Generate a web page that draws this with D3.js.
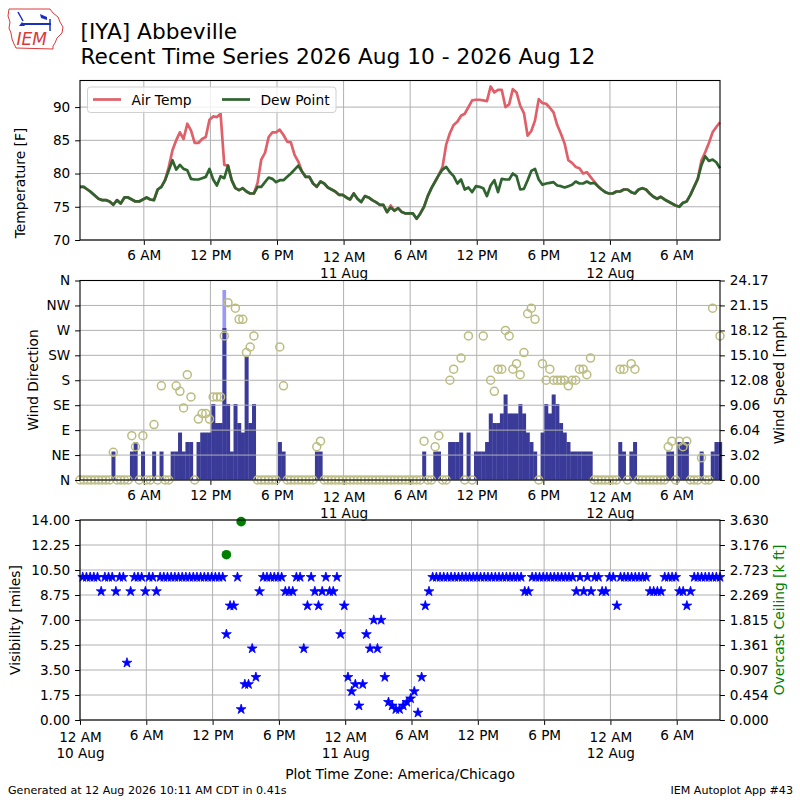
<!DOCTYPE html>
<html>
<head>
<meta charset="utf-8">
<script src="https://cdn.jsdelivr.net/npm/d3@7"></script>
<style>
body { margin: 0; background: #fff; }
svg text { font-family: "DejaVu Sans", sans-serif; }
</style>
</head>
<body>
<div id="chart"></div>
<script>
// observations every 20 minutes from 2026-08-10 00:15 (America/Chicago wall clock, handled as UTC)
const obsStart = Date.UTC(2026, 7, 10, 0, 15)
const obsStep = 20 * 60 * 1000

const airTemp = [
  78.0,78.0,77.6,77.2,76.7,76.2,76.0,76.0,75.8,75.3,76.0,75.5,76.4,76.4,76.1,75.8,75.8,76.1,76.4,76.1,
  76.0,77.6,78.0,79.0,81.0,83.5,85.0,86.2,85.2,87.5,86.5,84.6,84.6,85.2,85.5,88.1,88.6,88.5,89.0,81.3,
  81.2,79.0,77.8,77.5,77.8,77.3,77.0,77.0,78.6,82.1,83.1,85.5,86.2,86.2,86.6,85.8,84.8,84.7,82.8,81.8,
  80.3,79.5,79.5,78.5,78.0,78.8,78.5,77.9,77.6,77.3,76.8,76.8,76.4,76.1,77.0,76.2,75.7,76.6,76.4,76.0,
  75.7,75.3,75.3,74.2,75.2,74.4,74.8,74.2,74.0,74.0,74.0,73.2,74.0,75.0,76.6,77.8,78.8,79.8,81.0,84.4,
  86.1,87.3,87.8,88.7,89.0,90.0,91.0,91.1,91.1,91.0,90.9,93.1,92.2,92.6,92.6,90.0,90.4,92.7,92.2,90.2,
  89.1,85.7,86.4,88.0,91.2,90.6,90.5,89.9,89.2,87.3,86.0,84.5,82.0,81.6,81.0,80.8,80.0,80.2,79.5,78.8,
  78.1,77.6,77.2,77.0,77.0,77.3,77.3,77.6,77.6,77.2,77.0,77.6,77.8,77.6,77.0,76.5,76.2,76.5,76.1,75.8,
  75.5,75.2,75.0,75.6,75.8,76.8,78.0,79.2,82.0,83.2,84.6,86.2,87.0,87.7
]
const dewPoint = [
  78.0,78.0,77.6,77.2,76.7,76.2,76.0,76.0,75.8,75.3,76.0,75.5,76.4,76.4,76.1,75.8,75.8,76.1,76.4,76.1,
  76.0,77.6,78.0,79.0,80.5,82.0,80.6,81.3,80.7,80.5,79.2,79.1,79.1,79.3,79.5,80.7,79.1,78.2,79.6,79.3,
  81.2,79.0,77.8,77.5,77.8,77.3,77.0,77.0,78.0,78.0,78.7,79.4,79.2,78.7,79.0,79.0,79.5,80.0,80.6,81.2,
  80.3,79.5,79.5,78.5,78.0,78.8,78.5,77.9,77.6,77.3,76.8,76.8,76.4,76.1,77.0,76.2,75.7,76.6,76.4,76.0,
  75.7,75.3,75.3,74.2,74.9,74.4,74.8,74.2,74.0,74.0,74.0,73.2,74.0,75.0,76.6,77.8,78.8,79.8,80.6,81.0,
  80.2,79.6,78.5,79.1,77.6,77.9,77.2,78.1,78.0,77.8,76.6,78.2,79.0,77.2,79.2,79.1,79.1,80.0,79.6,77.6,
  77.7,79.0,80.4,80.7,79.1,78.3,78.5,78.6,78.7,78.2,78.1,77.9,78.1,78.3,78.8,78.5,78.5,78.8,78.5,78.6,
  78.1,77.6,77.2,77.0,77.0,77.3,77.3,77.6,77.6,77.2,77.0,77.6,77.8,77.6,77.0,76.5,76.2,76.5,76.1,75.8,
  75.5,75.2,75.0,75.6,75.8,76.8,78.0,79.2,81.3,82.6,81.9,82.1,81.7,80.8
]
// mph
const windSpeed = [
  0,0,0,0,0,0,0,0,0,3.45,0,0,0,0,3.45,4.6,0,3.45,0,0,
  3.45,0,3.45,0,0,3.45,3.45,5.75,3.45,4.6,4.6,0,4.6,5.75,5.75,5.75,9.21,6.9,6.9,18.41,
  9.21,3.45,9.21,6.9,5.75,14.96,6.9,9.21,0,0,0,0,0,0,4.6,3.45,0,0,0,0,
  0,0,0,0,3.45,3.45,0,0,0,0,0,0,0,0,0,0,0,0,0,0,
  0,0,0,0,0,0,0,0,0,0,0,0,0,3.45,0,0,3.45,3.45,0,0,
  4.6,4.6,4.6,5.75,0,5.75,0,3.45,3.45,3.45,4.6,8.06,6.9,6.9,8.06,10.36,8.06,8.06,8.06,9.21,
  8.06,5.75,4.6,3.45,0,5.75,9.21,8.06,10.36,9.21,6.9,5.75,4.6,3.45,3.45,3.45,3.45,3.45,3.45,0,
  0,0,0,0,0,0,4.6,3.45,0,3.45,4.6,0,0,0,0,0,0,0,0,3.45,
  3.45,0,4.6,4.6,4.6,0,0,0,3.45,0,0,3.45,4.6,4.6
]
// degrees, 0 = calm, null = missing
const windDir = [
  0,0,0,0,0,0,0,0,0,50,0,0,0,0,80,60,0,80,0,0,
  100,0,170,0,0,null,170,160,130,190,150,0,110,120,120,110,150,150,150,260,
  320,null,310,290,290,230,240,260,0,0,0,0,0,0,240,170,0,0,0,0,
  0,0,0,0,60,70,0,0,0,0,0,0,0,0,0,0,0,0,0,0,
  0,0,0,0,0,0,0,0,0,0,0,0,0,70,0,0,60,80,0,0,
  180,200,null,220,0,260,0,null,null,260,null,180,160,200,200,270,260,200,210,190,
  230,300,310,290,0,210,180,200,180,180,180,180,170,180,180,200,200,190,220,0,
  0,0,0,0,0,0,200,200,0,210,200,0,0,0,0,0,0,0,0,60,
  70,0,70,60,70,0,0,0,40,0,0,310,null,260
]
// miles
const visibility = [
  10,10,10,10,10,9,10,10,10,9,10,10,4,9,10,10,10,9,10,10,
  9,10,10,10,10,10,10,10,10,10,10,10,10,10,10,10,10,10,10,6,
  8,8,10,0.75,2.5,2.5,5,3,9,10,10,10,10,10,10,9,9,9,10,10,
  5,8,10,9,8,9,10,9,9,10,6,8,3,2,2.5,1,2.5,6,5,7,
  5,7,3,1.25,1,0.75,0.75,1,1.25,1.5,2,0.5,3,8,9,10,10,10,10,10,
  10,10,10,10,10,10,10,10,10,10,10,10,10,10,10,10,10,10,10,10,
  9,9,10,10,10,10,10,10,10,10,10,10,10,10,9,10,9,10,9,10,
  10,9,9,10,10,8,10,10,10,10,10,10,10,10,9,9,9,9,10,10,
  10,10,9,9,8,9,10,10,10,10,10,10,10,10
]
const gustTimes = ['2026-08-10T13:15']
const gustValues = [23.02]
const ceilTimes = ['2026-08-10T13:15', '2026-08-10T14:35']
const ceilValues = [3.0, 3.6]

const tempTicks = [70, 75, 80, 85, 90]
const dirTicks = [0, 45, 90, 135, 180, 225, 270, 315, 360]
const dirLabels = ['N', 'NE', 'E', 'SE', 'S', 'SW', 'W', 'NW', 'N']
const speedTicks = [0, 3.02, 6.04, 9.06, 12.08, 15.10, 18.12, 21.15, 24.17]
const visTicks = [0, 1.75, 3.5, 5.25, 7, 8.75, 10.5, 12.25, 14]
const ceilTicks = [0, 0.454, 0.907, 1.361, 1.815, 2.269, 2.723, 3.176, 3.630]
const xTicks = ['2026-08-10T00:00','2026-08-10T06:00','2026-08-10T12:00','2026-08-10T18:00',
  '2026-08-11T00:00','2026-08-11T06:00','2026-08-11T12:00','2026-08-11T18:00',
  '2026-08-12T00:00','2026-08-12T06:00']

const parseT = d3.utcParse('%Y-%m-%dT%H:%M')
const times = airTemp.map((d, i) => new Date(obsStart + i * obsStep))

const svg = d3.select('#chart').append('svg')
  .attr('width', 800).attr('height', 800).style('display', 'block')

const left = 80, right = 720
const xTop = d3.scaleUtc().domain([times[0], times[times.length - 1]]).range([left, right])
const xBot = d3.scaleUtc().domain([parseT('2026-08-10T00:00'), times[times.length - 1]]).range([left, right])

const gridColor = '#b0b0b0'
const tickFont = 13.6

function hourLabel(t) {
  const h = t.getUTCHours()
  if (h === 0) return ['12 AM', t.getUTCDate() + ' Aug']
  if (h === 12) return ['12 PM']
  return [(h % 12) + (h < 12 ? ' AM' : ' PM')]
}

function drawPanel(x, top, bottom) {
  const g = svg.append('g')
  const tv = xTicks.map(parseT).filter(t => t >= x.domain()[0] && t <= x.domain()[1])
  g.append('g').selectAll('line').data(tv).join('line')
    .attr('x1', d => x(d)).attr('x2', d => x(d))
    .attr('y1', top).attr('y2', bottom)
    .attr('stroke', gridColor).attr('stroke-width', 1)
  const ax = g.append('g').attr('transform', `translate(0,${bottom})`)
    .call(d3.axisBottom(x).tickValues(tv).tickSize(4.9).tickPadding(4.9).tickFormat(''))
  ax.select('.domain').remove()
  ax.selectAll('.tick line').attr('stroke', '#000')
  ax.selectAll('.tick text').each(function (d) {
    const lines = hourLabel(d)
    const t = d3.select(this).attr('font-size', tickFont).attr('fill', '#000')
      .attr('font-family', '"DejaVu Sans", sans-serif').attr('dy', null)
    lines.forEach((s, i) => t.append('tspan').attr('x', 0)
      .attr('dy', i ? '1.18em' : (lines.length > 1 ? '0.9em' : '0.78em')).text(s))
  })
  return g
}

function hGrid(g, y, ticks) {
  g.append('g').selectAll('line').data(ticks).join('line')
    .attr('x1', left).attr('x2', right)
    .attr('y1', d => y(d)).attr('y2', d => y(d))
    .attr('stroke', gridColor).attr('stroke-width', 1)
}

function yAxis(g, y, ticks, fmt, side) {
  const a = side === 'left' ? d3.axisLeft(y) : d3.axisRight(y)
  const ax = g.append('g').attr('transform', `translate(${side === 'left' ? left : right},0)`)
    .call(a.tickValues(ticks).tickSize(4.9).tickPadding(4.9).tickFormat(fmt))
  ax.select('.domain').remove()
  ax.selectAll('.tick line').attr('stroke', '#000')
  ax.selectAll('.tick text').attr('font-size', tickFont).attr('fill', '#000')
    .attr('font-family', '"DejaVu Sans", sans-serif')
}

function frame(g, top, bottom) {
  g.append('rect').attr('x', left).attr('y', top)
    .attr('width', right - left).attr('height', bottom - top)
    .attr('fill', 'none').attr('stroke', '#000').attr('stroke-width', 1.1)
}

function vLabel(text, x, y, color) {
  svg.append('text').attr('transform', `translate(${x},${y}) rotate(-90)`)
    .attr('text-anchor', 'middle').attr('font-size', 13.8).attr('fill', color || '#000')
    .text(text)
}

// ---- panel 1: temperatures
const t1 = 80.5, b1 = 240
const yTemp = d3.scaleLinear().domain([70, 94]).range([b1, t1])
const p1 = drawPanel(xTop, t1, b1)
hGrid(p1, yTemp, tempTicks)
const line = d3.line().x((d, i) => xTop(times[i])).y(d => yTemp(d))
p1.append('path').datum(airTemp).attr('d', line)
  .attr('fill', 'none').attr('stroke', '#e0606a').attr('stroke-width', 2.7).attr('stroke-linejoin', 'round')
p1.append('path').datum(dewPoint).attr('d', line)
  .attr('fill', 'none').attr('stroke', '#2f642f').attr('stroke-width', 2.7).attr('stroke-linejoin', 'round')
yAxis(p1, yTemp, tempTicks, d3.format('d'), 'left')
frame(p1, t1, b1)
vLabel('Temperature [F]', 25, 183)

const leg = p1.append('g')
leg.append('rect').attr('x', 87.5).attr('y', 87).attr('width', 248.5).attr('height', 25.5)
  .attr('rx', 3).attr('fill', '#fff').attr('fill-opacity', 0.8).attr('stroke', '#d0d0d0')
const legItems = [['Air Temp', '#e0606a', 93], ['Dew Point', '#2f642f', 222]]
legItems.forEach(([name, c, lx]) => {
  leg.append('line').attr('x1', lx).attr('x2', lx + 28).attr('y1', 99.5).attr('y2', 99.5)
    .attr('stroke', c).attr('stroke-width', 2.7)
  leg.append('text').attr('x', lx + 38.5).attr('y', 104.5).attr('font-size', 13.8).text(name)
})

// ---- panel 2: wind
const t2 = 280.5, b2 = 480
const yDir = d3.scaleLinear().domain([0, 360]).range([b2, t2])
const ySpd = d3.scaleLinear().domain([0, 24.17]).range([b2, t2])
const p2 = drawPanel(xTop, t2, b2)
const barW = xTop(new Date(obsStart + obsStep)) - xTop(new Date(obsStart))
p2.append('g').selectAll('rect').data(gustTimes).join('rect')
  .attr('x', (d) => xTop(parseT(d)) - barW / 2).attr('width', barW)
  .attr('y', (d, i) => ySpd(gustValues[i])).attr('height', (d, i) => b2 - ySpd(gustValues[i]))
  .attr('fill', '#9a9af5')
p2.append('g').selectAll('rect').data(windSpeed).join('rect')
  .attr('x', (d, i) => xTop(times[i]) - barW / 2).attr('width', barW + 0.3)
  .attr('y', d => ySpd(d)).attr('height', d => b2 - ySpd(d))
  .attr('fill', '#3a3a98')
hGrid(p2, yDir, dirTicks)
p2.append('g').selectAll('circle')
  .data(windDir.map((d, i) => [times[i], d]).filter(d => d[1] !== null)).join('circle')
  .attr('cx', d => xTop(d[0])).attr('cy', d => yDir(d[1])).attr('r', 4)
  .attr('fill', 'none').attr('stroke', '#bcbc80').attr('stroke-width', 1.5)
yAxis(p2, yDir, dirTicks, (d, i) => dirLabels[i], 'left')
yAxis(p2, ySpd, speedTicks, d3.format('.2f'), 'right')
frame(p2, t2, b2)
vLabel('Wind Direction', 38, 380)
vLabel('Wind Speed [mph]', 784, 380)

// ---- panel 3: visibility and ceiling
const t3 = 520, b3 = 720
const yVis = d3.scaleLinear().domain([0, 14]).range([b3, t3])
const yCeil = d3.scaleLinear().domain([0, 3.63]).range([b3, t3])
const p3 = drawPanel(xBot, t3, b3)
hGrid(p3, yVis, visTicks)
const star = d3.symbol(d3.symbolStar).size(30)
p3.append('g').selectAll('path').data(visibility).join('path')
  .attr('transform', (d, i) => `translate(${xBot(times[i])},${yVis(d)})`)
  .attr('d', star).attr('fill', '#0000ff').attr('stroke', '#0000ff').attr('stroke-width', 0.8)
p3.append('g').selectAll('circle').data(ceilTimes).join('circle')
  .attr('cx', d => xBot(parseT(d))).attr('cy', (d, i) => yCeil(ceilValues[i])).attr('r', 4.8)
  .attr('fill', '#008000')
yAxis(p3, yVis, visTicks, d3.format('.2f'), 'left')
yAxis(p3, yCeil, ceilTicks, d3.format('.3f'), 'right')
frame(p3, t3, b3)
vLabel('Visibility [miles]', 20, 620)
vLabel('Overcast Ceiling [k ft]', 784, 620, '#008000')

svg.append('text').attr('x', 400).attr('y', 779).attr('text-anchor', 'middle')
  .attr('font-size', 13.8).text('Plot Time Zone: America/Chicago')

// ---- titles and footer
svg.append('text').attr('x', 80.5).attr('y', 38.5).attr('font-size', 21.7).text('[IYA] Abbeville')
svg.append('text').attr('x', 80.5).attr('y', 63.5).attr('font-size', 21.7)
  .text('Recent Time Series 2026 Aug 10 - 2026 Aug 12')
svg.append('text').attr('x', 8).attr('y', 794).attr('font-size', 11.1)
  .text('Generated at 12 Aug 2026 10:11 AM CDT in 0.41s')
svg.append('text').attr('x', 793).attr('y', 794).attr('text-anchor', 'end').attr('font-size', 11.1)
  .text('IEM Autoplot App #43')

// ---- logo
const logo = svg.append('g')
logo.append('path')
  .attr('d', 'M9,9 L50,9 L53,13 L58,17 L60,22 L63,27 L62,33 L57,38 L55,43 L53,46 L53,49 L16,48 L14,44 L12,39 L11,33 L9,28 L10,22 L8,16 Z')
  .attr('fill', 'none').attr('stroke', '#d83a3a').attr('stroke-width', 1)
logo.append('line').attr('x1', 23).attr('y1', 24).attr('x2', 51).attr('y2', 24)
  .attr('stroke', '#1a2fc0').attr('stroke-width', 2)
logo.append('line').attr('x1', 18).attr('y1', 12).attr('x2', 23).attr('y2', 21)
  .attr('stroke', '#1a2fc0').attr('stroke-width', 1.5)
logo.append('path').attr('d', 'M40,14 L47,17 L47,20 L41,18 Z').attr('fill', '#1a2fc0')
logo.append('line').attr('x1', 50).attr('y1', 19).attr('x2', 50).attr('y2', 31)
  .attr('stroke', '#1a2fc0').attr('stroke-width', 1.5)
logo.append('path').attr('d', 'M19,26 L22,22 L25,26 Z').attr('fill', '#1a2fc0')
logo.append('text').attr('x', 16.5).attr('y', 45).attr('font-size', 17)
  .attr('font-family', '"Liberation Serif", serif').attr('font-style', 'italic')
  .attr('fill', '#d83a3a').text('IEM')
</script>
</body>
</html>
